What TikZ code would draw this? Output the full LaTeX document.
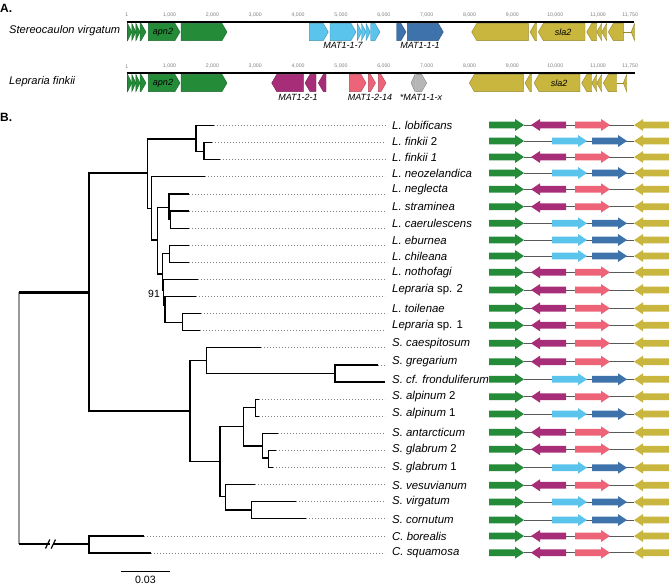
\documentclass[tikz,border=0pt]{standalone}
\usepackage{fontspec}
\setmainfont{Liberation Sans}

\definecolor{cGr}{RGB}{36,139,56}
\definecolor{cMag}{RGB}{167,45,120}
\definecolor{cPink}{RGB}{237,99,120}
\definecolor{cLb}{RGB}{91,196,236}
\definecolor{cDb}{RGB}{62,114,170}
\definecolor{cYel}{RGB}{201,182,62}
\definecolor{cGy}{RGB}{182,182,182}

% genes of the map (x1, x2, y, colour)
\newcommand{\geneR}[4]{\filldraw[fill=#4,draw=#4!75!black,line width=.4pt]
  (#1,#3-8.6) -- ({max(#1,#2-5)},#3-8.6) -- (#2,#3) -- ({max(#1,#2-5)},#3+8.6) -- (#1,#3+8.6) -- cycle;}
\newcommand{\geneL}[4]{\filldraw[fill=#4,draw=#4!75!black,line width=.4pt]
  (#1,#3) -- ({min(#1+5,#2)},#3-8.6) -- (#2,#3-8.6) -- (#2,#3+8.6) -- ({min(#1+5,#2)},#3+8.6) -- cycle;}
% block arrows of the tree column
\newcommand{\arrR}[4]{\fill[#4] (#1,#3-3.4) -- (#2-9,#3-3.4) -- (#2-9,#3-6) -- (#2,#3)
  -- (#2-9,#3+6) -- (#2-9,#3+3.4) -- (#1,#3+3.4) -- cycle;}
\newcommand{\arrL}[4]{\fill[#4] (#2,#3-3.4) -- (#1+9,#3-3.4) -- (#1+9,#3-6) -- (#1,#3)
  -- (#1+9,#3+6) -- (#1+9,#3+3.4) -- (#2,#3+3.4) -- cycle;}
\newcommand{\rowM}[1]{\arrL{531}{566}{#1}{cMag}\arrR{575}{610}{#1}{cPink}}
\newcommand{\rowB}[1]{\arrR{552}{587}{#1}{cLb}\arrR{592}{627}{#1}{cDb}}

\begin{document}
\begin{tikzpicture}[x=1pt,y=-1pt,every node/.style={inner sep=0pt},
  br/.style={line width=1.2pt},
  dots/.style={gray,line width=.8pt,dash pattern=on .8pt off 2.2pt},
  lab/.style={anchor=west,inner xsep=7pt,font=\fontsize{11.4}{13}\selectfont},
  tick/.style={gray,font=\fontsize{5.2}{6}\selectfont},
  glab/.style={font=\fontsize{9}{10}\selectfont\itshape},
  panel/.style={anchor=west,font=\fontsize{12}{12}\selectfont\bfseries}]
  \useasboundingbox (0,0) rectangle (669,584);

  % A. gene maps
  \node[panel] (pA) at (0,8) {A.};
  \node[anchor=west,font=\fontsize{11.1}{12}\selectfont\itshape] (sv) at (9,31) {Stereocaulon virgatum};
  \node[anchor=west,font=\fontsize{11.1}{12}\selectfont\itshape] (lf) at (9,82) {Lepraria finkii};
  \foreach \y/\e in {22/634,73.3/635} {
    \draw[line width=2pt] (126.7,\y) -- (\e,\y);
    \node[tick] at (126.7,\y-7) {1};
    \foreach \k/\t in {1/{1,000},2/{2,000},3/{3,000},4/{4,000},5/{5,000},6/{6,000},
      7/{7,000},8/{8,000},9/{9,000},10/{10,000},11/{11,000},11.75/{11,750}}
      \node[tick] at (126.7+42.85*\k,\y-7) {\t};
  }
  \foreach \y in {32,83} {
    \draw[cGr,line width=.8pt] (127.3,\y-8.6) -- (127.3,\y+8.6) (127.3,\y) -- (140,\y);
    \geneR{127.6}{131.8}{\y}{cGr}\geneR{131.8}{135.9}{\y}{cGr}\geneR{135.9}{140}{\y}{cGr}
    \geneR{140}{146}{\y}{cGr}
    \geneR{148.3}{180}{\y}{cGr}
    \geneR{181}{227}{\y}{cGr}
    \node[glab] at (163,\y) {apn2};
  }
  \geneR{309.3}{328.3}{32}{cLb}
  \geneR{330}{356}{32}{cLb}
  \geneR{357.3}{361.5}{32}{cLb}\geneR{361.5}{366}{32}{cLb}\geneR{366}{370.3}{32}{cLb}
  \geneR{370.7}{380}{32}{cLb}
  \geneR{396.7}{406}{32}{cDb}
  \geneR{407.3}{443.3}{32}{cDb}
  \geneL{471.7}{528.3}{32}{cYel}
  \geneL{530}{536.7}{32}{cYel}
  \geneL{538.3}{585}{32}{cYel}
  \geneL{586.7}{596.7}{32}{cYel}
  \geneL{596.7}{601.7}{32}{cYel}\geneL{601.7}{606.7}{32}{cYel}
  \geneL{608.3}{623.3}{32}{cYel}
  \draw[cYel!75!black,line width=.8pt] (623.3,32) -- (634,32);
  \geneL{631.2}{634.5}{32}{cYel}
  \node[glab] at (563,32) {sla2};
  \node[glab] at (343,45) {MAT1-1-7};
  \node[glab] at (420,45) {MAT1-1-1};

  \geneL{271.7}{303.3}{83}{cMag}
  \geneL{305}{316}{83}{cMag}
  \geneL{318.3}{326}{83}{cMag}
  \geneR{349.3}{366}{83}{cPink}
  \geneR{368.3}{375.5}{83}{cPink}
  \geneR{378.3}{386}{83}{cPink}
  \geneL{411}{415}{83}{cGy}
  \geneR{415.7}{426.7}{83}{cGy}
  \geneL{469.3}{523.3}{83}{cYel}
  \geneL{525}{531.7}{83}{cYel}
  \geneL{534}{580}{83}{cYel}
  \geneL{581.7}{591.7}{83}{cYel}
  \geneL{591.7}{596.7}{83}{cYel}\geneL{596.7}{601.7}{83}{cYel}
  \geneL{603.3}{616.7}{83}{cYel}
  \draw[cYel!75!black,line width=.8pt] (616.7,83) -- (626.7,83);
  \geneL{623.3}{626.7}{83}{cYel}
  \node[glab] at (559,83) {sla2};
  \node[glab] at (298,97) {MAT1-2-1};
  \node[glab] at (370,97) {MAT1-2-14};
  \node[glab] at (421,97) {*MAT1-1-x};

  % B. tree
  \node[panel] (pB) at (0,117) {B.};
  \foreach \nm/\xe [count=\i] in {lob/213.5,fin2/212,fin1/219.5,neo/205,neg/189,stra/189,
    caer/189,ebu/189,chi/189,not/197.5,sp2/196,toi/200.5,sp1/200,caes/261,gre/378,fro/385,
    alp2/259,alp1/259,ant/277.5,gla2/276,gla1/273,ves/255,vir/296,cor/306,bor/144,squ/151}
    \coordinate (\nm) at (\xe,{125.5+17.1*(\i-1)});
  \foreach \nm/\x/\y in {nTop/89/292.3,nOut/89/544,nLep/147.7/173,nA/196/139,nFin/204/151.7,
    nB/151.7/208.3,nC/157.3/240,nD/169/207.3,nE/170.7/219.3,nF/162.3/274,nG/169.3/253.3,
    nF2/163.5/290,nF3/165/305,nH/182.7/322.3,nSte/190/411,nT/206.7/360.7,nGr/335/373.5,
    nU/220/461.7,nV/243.3/426.7,nW/255.7/407.3,nX/262.7/446,nY/268.7/458,nZ/225.3/496.7,
    nQ/251.7/510}
    \coordinate (\nm) at (\x,\y);
  \coordinate (root) at (19,418);

  \foreach \p/\c in {nTop/nLep,nTop/nSte,nOut/bor,nOut/squ,nLep/nA,nLep/nB,nA/lob,nA/nFin,
    nFin/fin2,nFin/fin1,nB/neo,nB/nC,nC/nD,nC/nF,nD/neg,nD/nE,nE/stra,nE/caer,nF/nG,nF/nF2,
    nG/ebu,nG/chi,nF2/not,nF2/nF3,nF3/sp2,nF3/nH,nH/toi,nH/sp1,nSte/nT,nSte/nU,nT/caes,
    nT/nGr,nGr/gre,nGr/fro,nU/nV,nU/nZ,nV/nW,nV/nX,nW/alp2,nW/alp1,nX/ant,nX/nY,nY/gla2,
    nY/gla1,nZ/ves,nZ/nQ,nQ/vir,nQ/cor}
    \draw[br] (\p) |- (\c);

  \draw[gray!80,line width=1.1pt] (root |- nTop) -- (root |- nOut);
  \draw[line width=2.8pt] (root |- nTop) -- (nTop);
  \draw[line width=2.8pt] (root |- nOut) -- (nOut);
  \fill[white] (49.5,540) rectangle (52.5,548);
  \draw[br] (45.5,548.5) -- (49.8,539.5) (51.2,548.5) -- (55.5,539.5);
  \node[anchor=east,font=\fontsize{10.4}{11}\selectfont] (bs) at (160,294) {91};

  \foreach \nm/\ta/\tb/\ly/\pat in {lob/{L. lobificans}/{}/125/M,fin2/{L. finkii}/2/141/B,
    fin1/{L. finkii 1}/{}/157/M,neo/{L. neozelandica}/{}/173/B,neg/{L. neglecta}/{}/189.3/M,
    stra/{L. straminea}/{}/206.7/M,caer/{L. caerulescens}/{}/223.3/B,ebu/{L. eburnea}/{}/240/B,
    chi/{L. chileana}/{}/256/B,not/{L. nothofagi}/{}/272.3/M,sp2/Lepraria/{sp. 2}/290/M,
    toi/{L. toilenae}/{}/308.3/M,sp1/Lepraria/{sp. 1}/325.3/M,caes/{S. caespitosum}/{}/343.3/M,
    gre/{S. gregarium}/{}/361.7/M,fro/{S. cf. fronduliferum}/{}/379.3/B,
    alp2/{S. alpinum}/2/396.7/M,alp1/{S. alpinum}/1/414/B,ant/{S. antarcticum}/{}/432.3/M,
    gla2/{S. glabrum}/2/449.3/M,gla1/{S. glabrum}/1/467.7/B,ves/{S. vesuvianum}/{}/485.3/M,
    vir/{S. virgatum}/{}/502/B,cor/{S. cornutum}/{}/520/B,bor/{C. borealis}/{}/536/M,
    squ/{C. squamosa}/{}/552.7/M} {
    \node[lab] (l\nm) at (385,\ly) {{\itshape\ta} \tb};
    \draw[dots] (\nm) -- (\nm -| l\nm.west);
    \draw[gray!70!black,line width=.6pt] (524,\ly) -- (634,\ly);
    \arrR{489}{524}{\ly}{cGr}
    \arrL{634}{672}{\ly}{cYel}
    \csname row\pat\endcsname{\ly}
  }

  \coordinate (sb0) at (120.7,571.7);
  \coordinate (sb1) at (170,571.7);
  \draw[br] (sb0) -- node[below=3.3pt,font=\fontsize{10.6}{11}\selectfont] (sbl) {0.03} (sb1);
\end{tikzpicture}
\end{document}
